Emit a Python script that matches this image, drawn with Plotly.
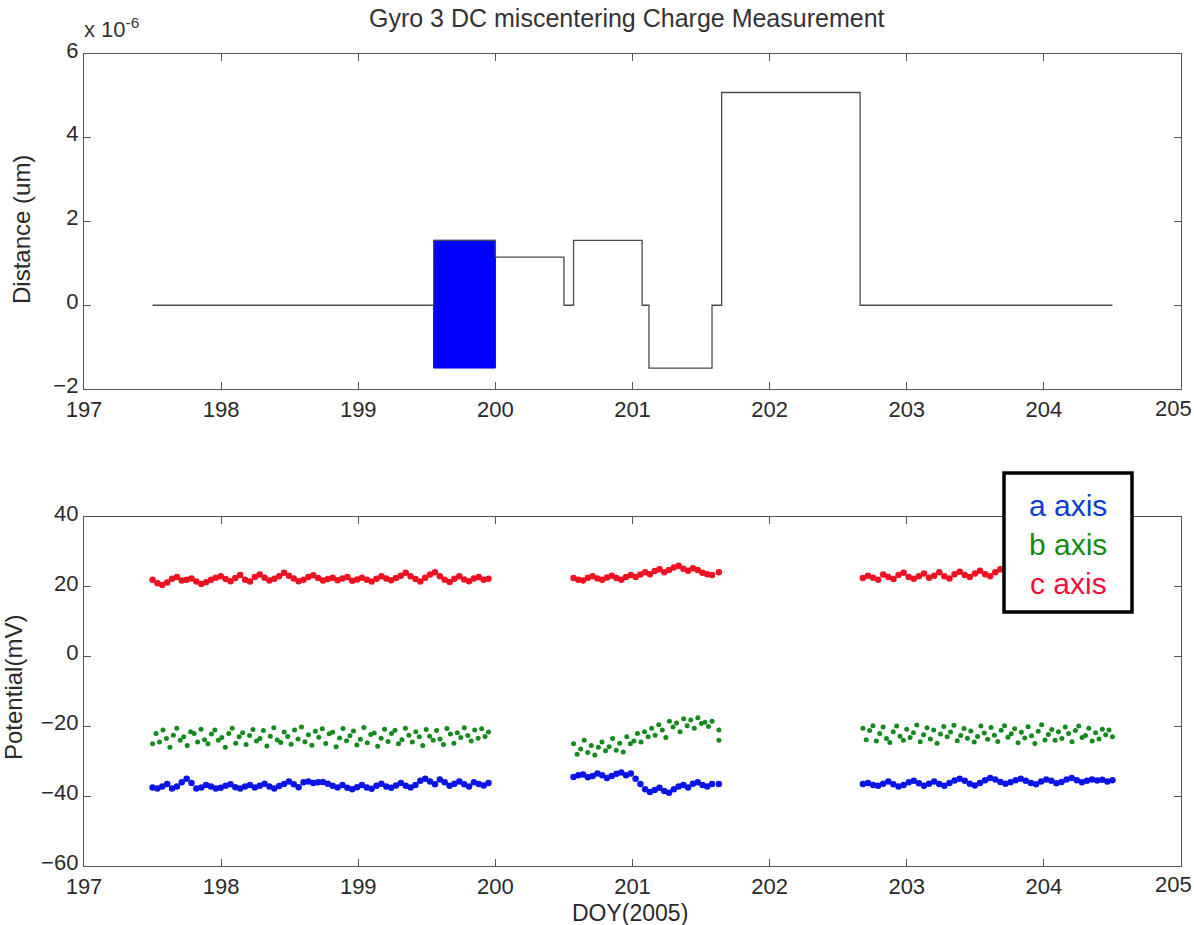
import numpy as np
import plotly.graph_objects as go

W, H = 1194, 925

# ---------------- top panel: DC miscentering distance (units of 1e-6) ----------------
step_x = [197.5, 199.55, 200.0, 200.50, 200.57, 201.07, 201.12, 201.58, 201.65, 202.66, 204.5]
step_y = [0.0, 1.55, 1.15, 0.0, 1.55, 0.0, -1.5, 0.0, 5.08, 0.0, 0.0]
block_x = [199.55, 200.0]      # fast modulation period (filled band)
block_y = [-1.5, 1.55]

top_ticks = [-2, 0, 2, 4, 6]
x_ticks = [197, 198, 199, 200, 201, 202, 203, 204, 205]
x_ticklabels = ["197", "198", "199", "200", "201", "202", "203", "204", "205"]

# ---------------- bottom panel: potential (mV) ----------------
seg1 = (197.5, 199.95)
seg2 = (200.57, 201.58)
seg3 = (202.68, 204.5)

a_seg1 = [-37.5, -37.8, -37.2, -36.5, -37.8, -37.2, -36.0, -35.0, -36.2, -37.8, -37.5, -36.8, -37.2, -37.8,
          -37.6, -37.0, -36.6, -37.4, -37.8, -37.2, -36.8, -37.5, -37.0, -36.4, -37.2, -37.8, -37.1, -36.5,
          -35.8, -36.6, -37.4, -36.0, -35.8, -36.2, -36.0, -35.9, -36.4, -37.0, -37.5, -36.8, -37.6, -38.0,
          -37.4, -36.8, -37.5, -37.9, -37.0, -36.4, -37.2, -37.6, -36.9, -36.2, -37.0, -37.5, -36.8, -35.6,
          -35.0, -35.8, -36.6, -35.2, -36.0, -37.0, -36.4, -35.8, -36.6, -37.2, -36.0, -36.5, -36.9, -36.2]
b_seg1 = [-25, -22, -24.5, -21, -23.5, -26, -22.5, -20.5, -24, -23, -25.5, -21.5, -22, -24.5, -20.8, -23.8,
          -25, -22.2, -21, -24, -23.2, -26, -22, -20.5, -24.8, -23, -21.8, -25.2, -22.6, -20.9, -24.2, -23.5,
          -21.2, -25.6, -22.8, -20.4, -23.9, -24.6, -21.6, -22.9, -25.1, -21, -23.6, -20.2, -24.4, -22.4,
          -25.4, -21.4, -23.1, -20.7, -24.9, -22.1, -21.7, -25.8, -23.3, -20.6, -24.1, -22.7, -21.3, -25.3,
          -23.7, -20.3, -24.7, -22.3, -21.9, -25.7, -23.4, -20.8, -24.3, -22, -21.1, -25, -23.8, -20.5, -22.5,
          -24.5, -21.5, -23, -25.5, -20.9, -22.8, -24, -21.2, -23.6, -25.2, -20.6, -22.2, -24.8, -21.8, -23.2,
          -20.4, -22.6, -24.2, -21, -23.4, -20.7, -22.9, -21.6]
c_seg1 = [22.0, 21.0, 20.5, 21.2, 22.3, 22.8, 21.8, 22.0, 22.4, 21.5, 20.8, 21.3, 22.0, 22.6, 23.0, 22.2,
          21.6, 22.5, 23.4, 22.0, 21.5, 22.8, 23.5, 22.6, 21.8, 22.3, 23.0, 24.0, 23.2, 22.4, 21.6, 22.0,
          22.8, 23.3, 22.5, 21.8, 22.2, 22.6, 21.9, 22.4, 22.8, 21.7, 22.1, 22.6, 22.0, 21.5, 22.3, 23.0,
          22.4, 21.9, 22.5, 23.2, 24.0, 23.0, 22.2, 21.5, 22.6, 23.5, 24.2, 23.0, 22.0, 21.4, 22.3, 23.0,
          22.1, 21.6, 22.4, 22.8, 22.0, 22.3]

a_seg2 = [-34.5, -34.0, -33.8, -34.6, -34.2, -33.5, -34.0, -34.8, -34.2, -33.6, -33.2, -34.0, -33.5, -35.0,
          -36.5, -38.0, -38.8, -38.2, -37.6, -38.5, -39.0, -38.0, -37.2, -36.8, -37.5, -36.4, -36.0, -36.8,
          -37.2, -36.5]
b_seg2 = [-25, -28, -26.5, -24, -27.5, -25.5, -28.2, -26, -24.5, -27, -25.8, -23.5, -26.8, -24.8, -27.3,
          -23, -25, -24.2, -22, -24.5, -21.5, -23, -20.5, -22.5, -19.5, -21, -23.2, -18.5, -20.2, -19, -21.5,
          -17.8, -19.8, -18.2, -20.5, -17.5, -19.2, -18.8, -20, -18.5]
c_seg2 = [22.5, 22.0, 21.8, 22.6, 23.0, 22.4, 22.0, 22.7, 23.2, 22.5, 22.0, 22.8, 23.4, 22.8, 23.5, 24.2,
          23.6, 24.5, 25.0, 24.2, 24.8, 25.5, 26.0, 25.2, 24.6, 25.3, 24.8, 24.0, 23.6, 23.4]

lone_x = [201.63, 201.63, 201.63, 201.63]
lone_y = [-36.5, -21.0, -24.0, 24.2]
lone_c = ["a", "b", "b", "c"]

a_seg3 = [-36.5, -36.2, -36.8, -37.0, -36.4, -35.8, -36.6, -37.2, -36.8, -36.0, -35.6, -36.3, -37.0, -36.4,
          -35.8, -36.5, -37.0, -36.2, -35.5, -35.0, -35.6, -36.4, -36.9, -36.2, -35.4, -34.8, -35.2, -35.9,
          -36.4, -36.0, -35.4, -35.0, -35.6, -36.2, -36.6, -35.8, -35.2, -35.6, -36.3, -35.9, -35.2, -34.8,
          -35.4, -36.0, -35.6, -35.2, -35.5, -35.3, -35.8, -35.4]
b_seg3 = [-20.5, -23.8, -21.2, -19.8, -24.2, -22, -20.2, -23.5, -24.6, -21.5, -19.9, -22.8, -24, -20.8,
          -23.2, -21.8, -19.6, -24.4, -22.4, -20.4, -23.6, -21, -24.8, -22.2, -20, -23, -21.6, -19.7, -24.1,
          -22.6, -20.6, -23.4, -21.3, -24.5, -22.9, -19.9, -21.9, -23.7, -20.3, -22.5, -24.3, -21.1, -19.8,
          -23.1, -22.1, -20.7, -24.7, -21.7, -23.3, -20.1, -22.7, -24.9, -21.4, -19.5, -23.9, -22.3, -20.9,
          -24, -21.5, -23.5, -20.2, -22, -24.4, -21.2, -19.9, -23.2, -22.6, -20.5, -24.2, -21.8, -23.6, -20.8,
          -22.4, -21, -23]
c_seg3 = [22.5, 23.2, 22.6, 22.0, 23.5, 22.8, 22.2, 23.4, 24.0, 22.8, 22.3, 23.0, 23.8, 22.6, 23.2, 24.2,
          23.0, 22.4, 23.6, 24.3, 23.4, 22.8, 23.8, 24.6, 23.6, 23.0, 24.2, 25.0, 24.4, 23.8, 23.2, 23.6,
          24.0, 23.4, 23.0, 23.8, 24.2, 23.6, 23.2, 23.9, 24.3, 23.7, 23.1, 23.5, 24.0, 23.4, 23.0, 23.6,
          23.9, 23.3]

bot_ticks = [-60, -40, -20, 0, 20, 40]

series_names = ["a axis", "b axis", "c axis"]
colors = {"a": "#0a14e6", "b": "#138a1c", "c": "#ee1122"}
sizes = {"a": 6.5, "b": 5.0, "c": 6.5}
legend_colors = ["#0a3bd6", "#128a12", "#ff0a3a"]

# ---------------- figure ----------------
def px_x(p):
    return p / W

def px_y(p):
    return 1 - p / H

fig = go.Figure()

# top
fig.add_trace(go.Scatter(x=[block_x[0], block_x[1], block_x[1], block_x[0], block_x[0]],
                         y=[block_y[0], block_y[0], block_y[1], block_y[1], block_y[0]],
                         fill="toself", fillcolor="#0000ff", mode="lines",
                         line=dict(color="#0000ff", width=1), xaxis="x", yaxis="y",
                         showlegend=False, hoverinfo="skip"))
fig.add_trace(go.Scatter(x=step_x, y=step_y, mode="lines", line_shape="hv",
                         line=dict(color="#4a4a55", width=1.3), xaxis="x", yaxis="y",
                         showlegend=False))

# bottom
def seg_x(seg, vals):
    return np.linspace(seg[0], seg[1], len(vals))

groups = {
    "a": [(seg1, a_seg1), (seg2, a_seg2), (seg3, a_seg3)],
    "b": [(seg1, b_seg1), (seg2, b_seg2), (seg3, b_seg3)],
    "c": [(seg1, c_seg1), (seg2, c_seg2), (seg3, c_seg3)],
}
for key, name in zip(["c", "b", "a"], ["c axis", "b axis", "a axis"]):
    xs, ys = [], []
    for seg, vals in groups[key]:
        xs.extend(seg_x(seg, vals).tolist())
        ys.extend(vals)
    for lx, ly, lc in zip(lone_x, lone_y, lone_c):
        if lc == key:
            xs.append(lx)
            ys.append(ly)
    fig.add_trace(go.Scatter(x=xs, y=ys, mode="markers", name=name,
                             marker=dict(color=colors[key], size=sizes[key], line=dict(width=0)),
                             xaxis="x2", yaxis="y2", showlegend=False))

font_main = "Liberation Sans, Arial, sans-serif"
txt_col = "#2a2a2a"
tick_font = dict(family=font_main, size=22, color=txt_col)
axis_common = dict(showline=True, mirror="ticks", linecolor="#555555", linewidth=1.3,
                   ticks="inside", ticklen=7, tickwidth=1, tickcolor="#555555",
                   showgrid=False, zeroline=False, tickfont=tick_font, automargin=False)
y_extra = dict(ticklabelshift=-4)

# last x tick label is placed separately so it stays inside the page edge
shown_x_labels = x_ticklabels[:-1] + [""]

xdom = [px_x(84), px_x(1181)]
fig.update_layout(
    width=W, height=H,
    margin=dict(l=0, r=0, t=0, b=0),
    paper_bgcolor="white", plot_bgcolor="white",
    xaxis=dict(domain=xdom, range=[197, 205], tickvals=x_ticks, ticktext=shown_x_labels,
               anchor="y", **axis_common),
    yaxis=dict(domain=[px_y(389), px_y(54)], range=[-2, 6], tickvals=top_ticks, anchor="x",
               **axis_common, **y_extra),
    xaxis2=dict(domain=xdom, range=[197, 205], tickvals=x_ticks, ticktext=shown_x_labels,
                anchor="y2", **axis_common),
    yaxis2=dict(domain=[px_y(866), px_y(517)], range=[-60, 40], tickvals=bot_ticks, anchor="x2",
                **axis_common, **y_extra),
    showlegend=False,
)

for ypx in (409, 884):
    fig.add_annotation(text=x_ticklabels[-1], xref="paper", yref="paper", x=1.0, y=px_y(ypx),
                       showarrow=False, xanchor="right", yanchor="middle", font=tick_font)

label_font = dict(family=font_main, size=24, color=txt_col)
fig.add_annotation(text="Distance (um)", xref="paper", yref="paper", x=px_x(21), y=px_y(230),
                   textangle=-90, showarrow=False, xanchor="center", yanchor="middle", font=label_font)
fig.add_annotation(text="Potential(mV)", xref="paper", yref="paper", x=px_x(13), y=px_y(688),
                   textangle=-90, showarrow=False, xanchor="center", yanchor="middle", font=label_font)
fig.add_annotation(text="DOY(2005)", xref="paper", yref="paper", x=px_x(630), y=px_y(913),
                   showarrow=False, xanchor="center", yanchor="middle",
                   font=dict(family=font_main, size=23, color=txt_col))

# title and exponent
fig.add_annotation(text="Gyro 3 DC miscentering Charge Measurement", xref="paper", yref="paper",
                   x=px_x(627), y=px_y(18), showarrow=False, xanchor="center", yanchor="middle",
                   font=dict(family=font_main, size=25, color="#333333"))
fig.add_annotation(text="x 10<sup>-6</sup>", xref="paper", yref="paper",
                   x=px_x(82), y=px_y(28), showarrow=False, xanchor="left", yanchor="middle",
                   font=dict(family=font_main, size=22, color="#333333"))

# legend box
fig.add_shape(type="rect", xref="paper", yref="paper",
              x0=px_x(1004), x1=px_x(1132), y0=px_y(612), y1=px_y(473),
              line=dict(color="black", width=3.5), fillcolor="white", layer="above")
for i, (nm, col) in enumerate(zip(series_names, legend_colors)):
    fig.add_annotation(text=nm, xref="paper", yref="paper", x=px_x(1068), y=px_y(506 + 38.5 * i),
                       showarrow=False, xanchor="center", yanchor="middle",
                       font=dict(family=font_main, size=30, color=col))

fig.write_html("out.html")
